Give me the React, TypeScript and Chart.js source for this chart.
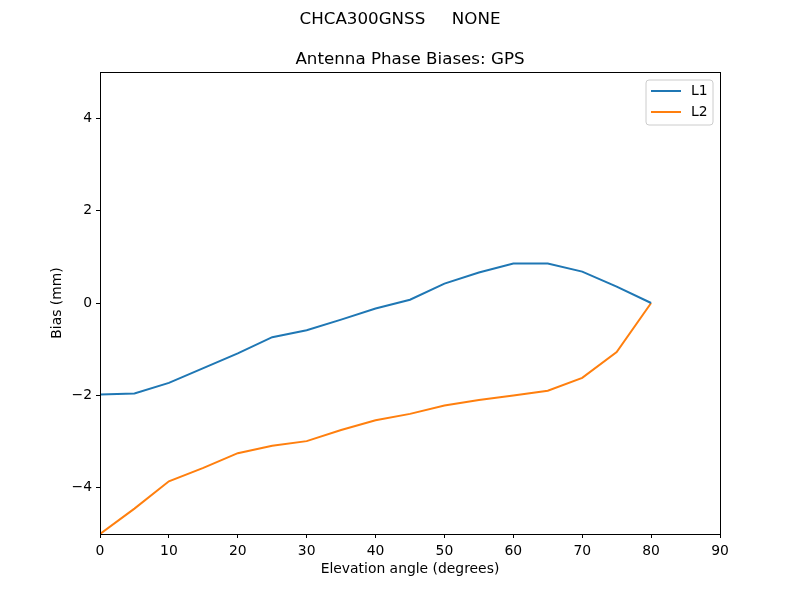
import React, { useEffect, useRef } from "react";
import { Chart, registerables } from "chart.js";

Chart.register(...registerables);

const elevations = [0, 5, 10, 15, 20, 25, 30, 35, 40, 45, 50, 55, 60, 65, 70, 75, 80];
const l1Values = [-1.98, -1.96, -1.73, -1.41, -1.09, -0.74, -0.59, -0.36, -0.12, 0.07, 0.42, 0.66, 0.855, 0.855, 0.68, 0.355, 0.0];
const l2Values = [-5.0, -4.45, -3.86, -3.57, -3.25, -3.09, -2.99, -2.75, -2.54, -2.4, -2.22, -2.1, -2.0, -1.9, -1.62, -1.06, 0.0];
const xTicks = [0, 10, 20, 30, 40, 50, 60, 70, 80, 90];
const yTicks = [-4, -2, 0, 2, 4];
const seriesNames = ["L1", "L2"];
const seriesColors = ["#1f77b4", "#ff7f0e"];
const suptitle = "CHCA300GNSS     NONE";
const axesTitle = "Antenna Phase Biases: GPS";
const xLabel = "Elevation angle (degrees)";
const yLabel = "Bias (mm)";

const FONT = "'DejaVu Sans', sans-serif";

const framePlugin = {
  id: "frameAndLegend",
  afterDraw(chart: any) {
    const { ctx, chartArea, width } = chart;
    const { left, right, top } = chartArea;
    ctx.save();
    ctx.fillStyle = "#000";
    ctx.font = `16.7px ${FONT}`;
    ctx.textAlign = "center";
    ctx.textBaseline = "alphabetic";
    ctx.fillText(suptitle, width / 2, 24);
    ctx.fillText(axesTitle, (left + right) / 2, top - 8.5);
    ctx.restore();
  },
  afterDatasetsDraw(chart: any) {
    const { ctx, chartArea } = chart;
    const { left, right, top, bottom } = chartArea;
    ctx.save();
    ctx.strokeStyle = "#000";
    ctx.lineWidth = 1;
    ctx.strokeRect(Math.round(left) + 0.5, Math.round(top) + 0.5, Math.round(right - left), Math.round(bottom - top));

    const bw = 67, bh = 45;
    const bx = right - 7 - bw;
    const by = top + 8;
    const r = 3;
    ctx.beginPath();
    ctx.moveTo(bx + r, by);
    ctx.lineTo(bx + bw - r, by);
    ctx.quadraticCurveTo(bx + bw, by, bx + bw, by + r);
    ctx.lineTo(bx + bw, by + bh - r);
    ctx.quadraticCurveTo(bx + bw, by + bh, bx + bw - r, by + bh);
    ctx.lineTo(bx + r, by + bh);
    ctx.quadraticCurveTo(bx, by + bh, bx, by + bh - r);
    ctx.lineTo(bx, by + r);
    ctx.quadraticCurveTo(bx, by, bx + r, by);
    ctx.closePath();
    ctx.fillStyle = "rgba(255,255,255,0.8)";
    ctx.fill();
    ctx.strokeStyle = "#cccccc";
    ctx.lineWidth = 1;
    ctx.stroke();

    ctx.font = `13.9px ${FONT}`;
    ctx.textBaseline = "middle";
    ctx.textAlign = "left";
    seriesNames.forEach((name, i) => {
      const yy = by + 11 + i * 21;
      ctx.strokeStyle = seriesColors[i];
      ctx.lineWidth = 2;
      ctx.beginPath();
      ctx.moveTo(bx + 5, yy);
      ctx.lineTo(bx + 35, yy);
      ctx.stroke();
      ctx.fillStyle = "#000";
      ctx.fillText(name, bx + 45, yy);
    });
    ctx.restore();
  },
};

export default function App() {
  const ref = useRef<HTMLCanvasElement | null>(null);

  useEffect(() => {
    document.body.style.margin = "0";
    const canvas = ref.current;
    if (!canvas) return;
    const chart = new Chart(canvas, {
      type: "line",
      data: {
        datasets: seriesNames.map((name, i) => ({
          label: name,
          data: elevations.map((x, j) => ({ x, y: (i === 0 ? l1Values : l2Values)[j] })),
          borderColor: seriesColors[i],
          backgroundColor: seriesColors[i],
          borderWidth: 2,
          pointRadius: 0,
          tension: 0,
          fill: false,
        })),
      },
      options: {
        animation: false,
        responsive: false,
        maintainAspectRatio: false,
        layout: { padding: { left: 49, right: 80, top: 72, bottom: 22 } },
        plugins: {
          legend: { display: false },
          tooltip: { enabled: false },
          title: { display: false },
        },
        scales: {
          x: {
            type: "linear",
            min: 0,
            max: 90,
            afterBuildTicks: (scale: any) => {
              scale.ticks = xTicks.map((v) => ({ value: v }));
            },
            afterFit: (scale: any) => {
              scale.height = 44;
            },
            ticks: {
              color: "#000",
              font: { family: FONT, size: 13.9 },
              padding: 5,
              maxRotation: 0,
              autoSkip: false,
            },
            grid: {
              display: true,
              drawOnChartArea: false,
              drawTicks: true,
              tickLength: 4,
              tickColor: "#000",
              color: "#000",
            },
            border: { display: false },
            title: {
              display: true,
              text: xLabel,
              color: "#000",
              font: { family: FONT, size: 13.9 },
              padding: { top: 0, bottom: 0 },
            },
          },
          y: {
            type: "linear",
            min: -5,
            max: 5,
            afterBuildTicks: (scale: any) => {
              scale.ticks = yTicks.map((v) => ({ value: v }));
            },
            afterFit: (scale: any) => {
              scale.width = 51;
            },
            ticks: {
              color: "#000",
              font: { family: FONT, size: 13.9 },
              padding: 4,
              callback: (v: any) => String(v).replace("-", "\u2212"),
            },
            grid: {
              display: true,
              drawOnChartArea: false,
              drawTicks: true,
              tickLength: 4,
              tickColor: "#000",
              color: "#000",
            },
            border: { display: false },
            title: {
              display: true,
              text: yLabel,
              color: "#000",
              font: { family: FONT, size: 13.9 },
              padding: { top: 0, bottom: 0 },
            },
          },
        },
      },
      plugins: [framePlugin],
    } as any);
    return () => chart.destroy();
  }, []);

  return <canvas ref={ref} width={800} height={600} style={{ display: "block" }} />;
}
